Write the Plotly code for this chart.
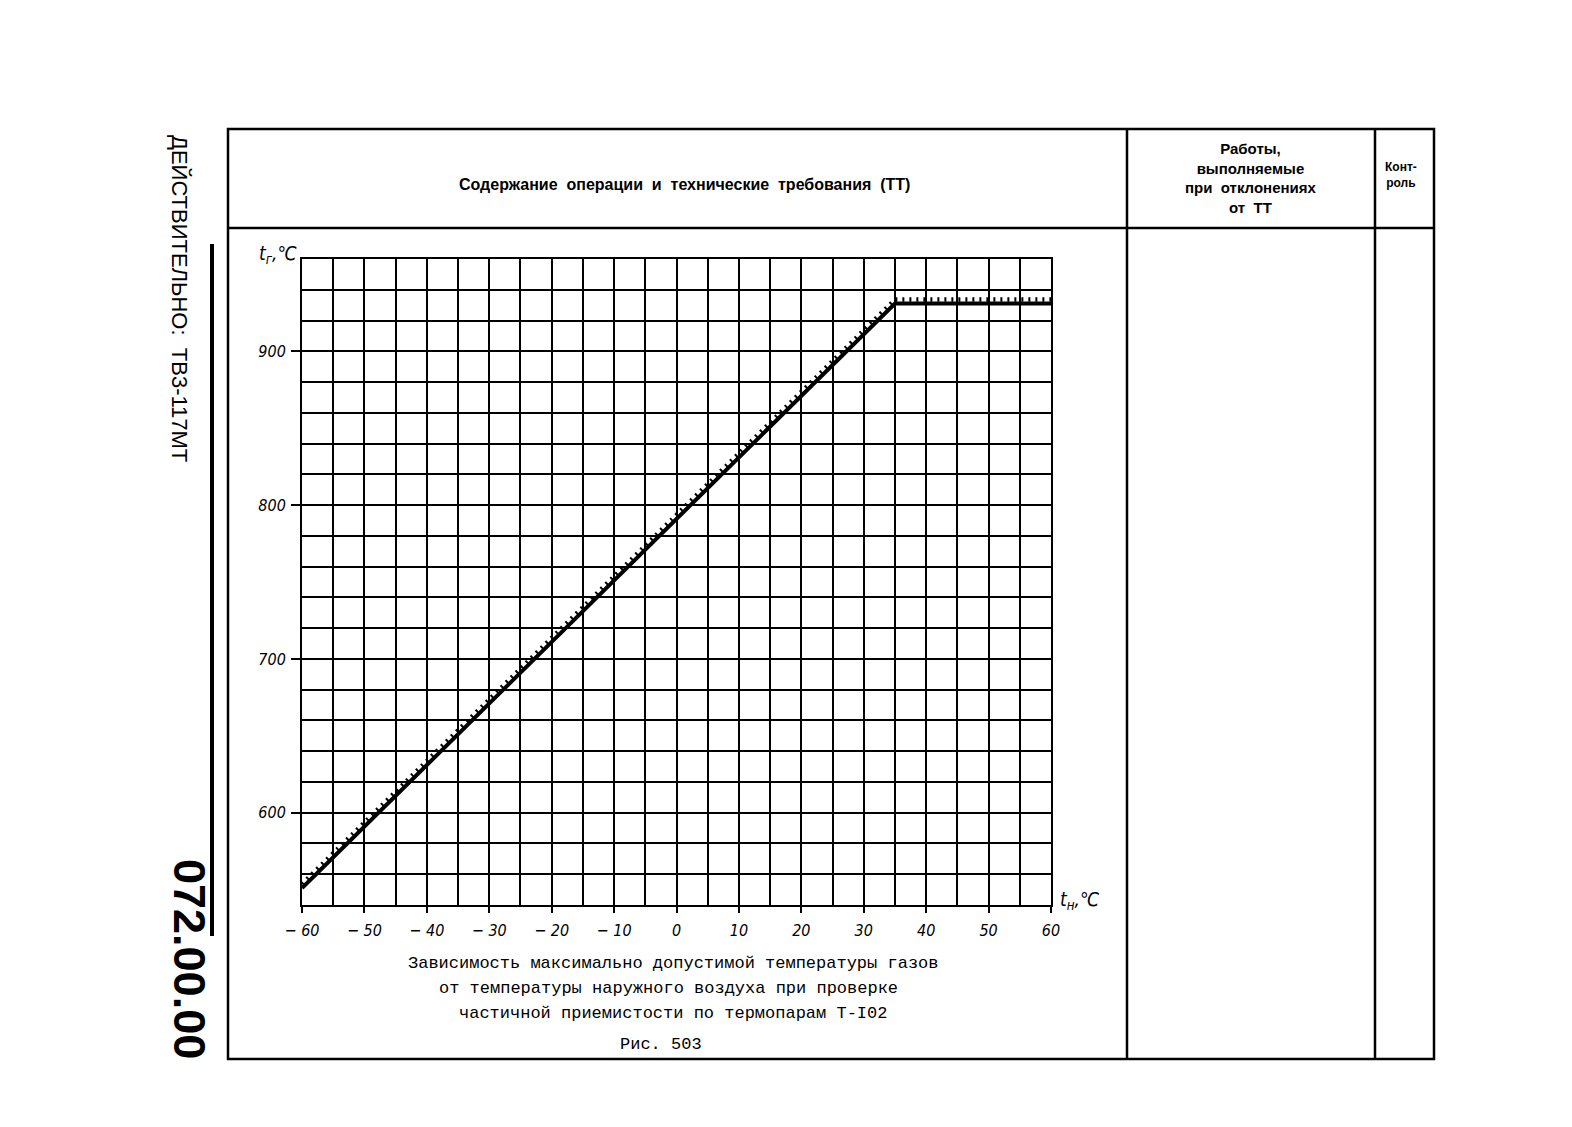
import plotly.graph_objects as go

# Зависимость t_г от t_н (рис. 503)
t_naruzh = [-60, 35, 60]
t_gazov = [551, 931, 931]

x_ticks = [-60, -50, -40, -30, -20, -10, 0, 10, 20, 30, 40, 50, 60]
y_ticks = [600, 700, 800, 900]

W, H = 1572, 1127
OFF = 7  # отступ страницы в браузере


def px(x):
    return (x - OFF) / W


def py(y):
    return 1 - (y - OFF) / H


fig = go.Figure()

# штриховка недопустимой зоны (над линией)
fig.add_trace(go.Scatter(
    x=t_naruzh, y=[v + 2.6 for v in t_gazov], mode='lines',
    line=dict(color='black', width=4.5, dash='2px,5px'),
    hoverinfo='skip', showlegend=False))

fig.add_trace(go.Scatter(
    x=t_naruzh, y=t_gazov, mode='lines',
    line=dict(color='black', width=4),
    showlegend=False))

narrow = 'Liberation Sans Narrow, DejaVu Sans Condensed, Arial Narrow, sans-serif'
tick_font = dict(family=narrow, size=16, color='black', style='italic')

fig.update_xaxes(
    domain=[px(301), px(1050)], range=[-60, 60], automargin=False,
    tickvals=x_ticks, ticktext=[str(v).replace('-', '\u2212 ') for v in x_ticks],
    ticks='outside', ticklen=6, tickwidth=2, tickcolor='black',
    showgrid=True, gridcolor='black', gridwidth=2,
    minor=dict(dtick=5, tick0=-60, showgrid=True, gridcolor='black', gridwidth=2),
    showline=True, linecolor='black', linewidth=2, mirror=True,
    zeroline=False, tickfont=tick_font, ticklabelstandoff=4)

fig.update_yaxes(
    domain=[py(904), py(258)], range=[540, 960], automargin=False,
    tickvals=y_ticks, ticktext=[str(v) for v in y_ticks],
    ticks='outside', ticklen=9, tickwidth=2, tickcolor='black',
    showgrid=True, gridcolor='black', gridwidth=2,
    minor=dict(dtick=20, tick0=540, showgrid=True, gridcolor='black', gridwidth=2),
    showline=True, linecolor='black', linewidth=2, mirror=True,
    zeroline=False, tickfont=tick_font, ticklabelstandoff=2)

# рамка таблицы
shapes = [
    dict(type='rect', x0=px(227), x1=px(1433), y0=py(128), y1=py(1058)),
    dict(type='line', x0=px(227), x1=px(1433), y0=py(227), y1=py(227)),
    dict(type='line', x0=px(1126), x1=px(1126), y0=py(128), y1=py(1058)),
    dict(type='line', x0=px(1374), x1=px(1374), y0=py(128), y1=py(1058)),
]
for s in shapes:
    s.update(xref='paper', yref='paper', line=dict(color='black', width=2.5))
shapes.append(dict(type='line', xref='paper', yref='paper',
                   x0=px(211), x1=px(211), y0=py(243), y1=py(935),
                   line=dict(color='black', width=4)))

head_font = dict(family='Liberation Sans, Arial, sans-serif', size=16, color='black', weight='bold')
mono = dict(family='Liberation Mono, Courier New, monospace', size=17, color='black')
ax_font = dict(family=narrow, size=19, color='black', style='italic')

annotations = [
    dict(x=px(683), y=py(183), text='Содержание  операции  и  технические  требования  (ТТ)',
         font=head_font),
    dict(x=px(1250), y=py(177),
         text='Работы,<br>выполняемые<br>при  отклонениях<br>от  ТТ',
         font=dict(head_font, size=15)),
    dict(x=px(1400), y=py(174), text='Конт-<br>роль',
         font=dict(head_font, size=12)),
    dict(x=px(298), y=py(254), xanchor='right', text='t<sub>г</sub>,℃', font=ax_font),
    dict(x=px(1057), y=py(899), xanchor='left', text='t<sub>н</sub>,℃', font=ax_font),
    dict(x=px(672), y=py(962), text='Зависимость максимально допустимой температуры газов', font=mono),
    dict(x=px(667), y=py(987), text='от температуры наружного воздуха при проверке', font=mono),
    dict(x=px(672), y=py(1012), text='частичной приемистости по термопарам Т-I02', font=mono),
    dict(x=px(660), y=py(1043), text='Рис. 503', font=mono),
    dict(x=px(179), y=py(297), text='ДЕЙСТВИТЕЛЬНО:  ТВ3-117МТ', textangle=90,
         font=dict(family='Liberation Sans, Arial, sans-serif', size=22, color='black')),
    dict(x=px(189), y=py(958), text='072.00.00', textangle=90,
         font=dict(family='Liberation Sans, Arial, sans-serif', size=45, color='black', weight='bold')),
]
for a in annotations:
    a.setdefault('xanchor', 'center')
    a.update(xref='paper', yref='paper', showarrow=False, yanchor='middle')

fig.update_layout(
    width=W, height=H, autosize=False,
    margin=dict(l=0, r=0, t=0, b=0, pad=0),
    paper_bgcolor='white', plot_bgcolor='white',
    shapes=shapes, annotations=annotations,
    showlegend=False,
)

fig.write_html("out.html")
